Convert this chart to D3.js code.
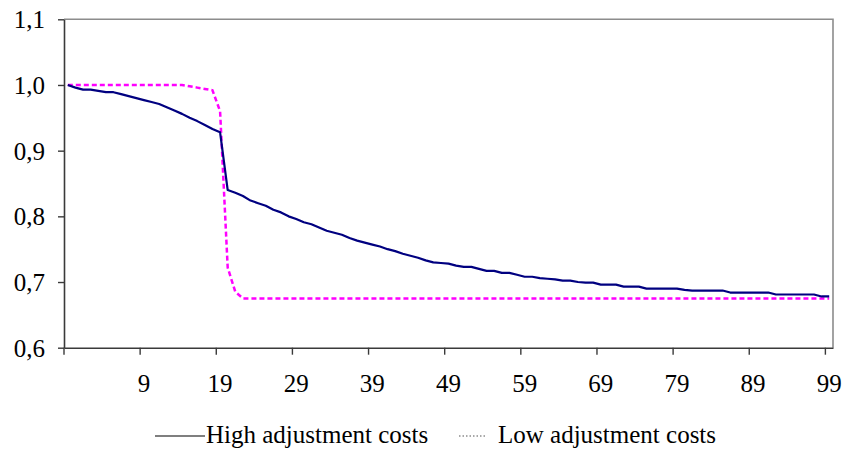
<!DOCTYPE html>
<html><head><meta charset="utf-8">
<script src="https://cdn.jsdelivr.net/npm/d3@7"></script>
<style>
body{margin:0;background:#fff}
svg{display:block}
text{font-family:"Liberation Serif","Times New Roman",serif;fill:#000}
</style>
</head><body>
<svg id="chart" width="844" height="454"></svg>
<script>
// categories: periods -1 .. 99 (first category has no label)
const periods = d3.range(-1, 100);
const xTickLabels = [9, 19, 29, 39, 49, 59, 69, 79, 89, 99];
const yTicks = [0.6, 0.7, 0.8, 0.9, 1.0, 1.1];
const seriesNames = ["High adjustment costs", "Low adjustment costs"];

const highCosts = [
 1.000,0.996,0.993,0.993,0.991,0.989,0.989,0.986,0.983,0.980,
 0.977,0.974,0.971,0.966,0.961,0.956,0.950,0.945,0.939,0.933,
 0.928,0.840,0.836,0.831,0.824,0.820,0.816,0.810,0.806,0.800,
 0.796,0.791,0.788,0.783,0.778,0.775,0.772,0.767,0.763,0.760,
 0.757,0.754,0.750,0.747,0.743,0.740,0.737,0.733,0.730,0.729,
 0.728,0.725,0.723,0.723,0.720,0.717,0.717,0.714,0.714,0.711,
 0.708,0.708,0.706,0.705,0.704,0.702,0.702,0.700,0.699,0.699,
 0.696,0.696,0.696,0.693,0.693,0.693,0.690,0.690,0.690,0.690,
 0.690,0.688,0.687,0.687,0.687,0.687,0.687,0.684,0.684,0.684,
 0.684,0.684,0.684,0.681,0.681,0.681,0.681,0.681,0.681,0.678,
 0.678];

const lowCosts = [
 1.000,1.000,1.000,1.000,1.000,1.000,1.000,1.000,1.000,1.000,
 1.000,1.000,1.000,1.000,1.000,1.000,0.998,0.996,0.994,0.992,
 0.960,0.722,0.685,0.675,0.675,0.675,0.675,0.675,0.675,0.675,
 0.675,0.675,0.675,0.675,0.675,0.675,0.675,0.675,0.675,0.675,
 0.675,0.675,0.675,0.675,0.675,0.675,0.675,0.675,0.675,0.675,
 0.675,0.675,0.675,0.675,0.675,0.675,0.675,0.675,0.675,0.675,
 0.675,0.675,0.675,0.675,0.675,0.675,0.675,0.675,0.675,0.675,
 0.675,0.675,0.675,0.675,0.675,0.675,0.675,0.675,0.675,0.675,
 0.675,0.675,0.675,0.675,0.675,0.675,0.675,0.675,0.675,0.675,
 0.675,0.675,0.675,0.675,0.675,0.675,0.675,0.675,0.675,0.675,
 0.675];

const svg = d3.select("#chart");
const L = 64, R = 833, T = 19.3, B = 347.7;
const FS = 25;

const x = d3.scaleBand().domain(periods).range([L, R]).padding(0);
const y = d3.scaleLinear().domain([0.6, 1.1]).range([B, T]);
const bw = x.bandwidth();
const cx = p => x(p) + bw / 2;

// frame: top and right borders
svg.append("path")
  .attr("d", `M${L},${T}H${R}V${B}`)
  .attr("fill", "none").attr("stroke", "#8c8c8c").attr("stroke-width", 1.6);

// y axis
const yAxis = svg.append("g").attr("transform", `translate(${L},0)`)
  .call(d3.axisLeft(y).tickValues(yTicks).tickSize(6).tickSizeOuter(0)
    .tickFormat(d => d3.format(".1f")(d).replace(".", ",")));
yAxis.select(".domain").attr("stroke", "#3a3a3a").attr("stroke-width", 1.6);
yAxis.selectAll(".tick line").attr("stroke", "#3a3a3a").attr("stroke-width", 1.4);
yAxis.selectAll(".tick text")
  .attr("x", -19).attr("dy", "0.34em")
  .attr("text-anchor", "end")
  .style("font-size", FS + "px").style("font-family", "'Liberation Serif', serif");

// x axis
const xAxis = svg.append("g").attr("transform", `translate(0,${B})`)
  .call(d3.axisBottom(x).tickValues([-1].concat(xTickLabels)).tickSize(7).tickSizeOuter(0)
    .tickFormat(d => d < 0 ? "" : String(d)));
xAxis.select(".domain").attr("stroke", "#3a3a3a").attr("stroke-width", 1.6);
xAxis.selectAll(".tick line").attr("stroke", "#3a3a3a").attr("stroke-width", 1.4)
  .attr("transform", `translate(${-bw / 2},0)`);
xAxis.selectAll(".tick text")
  .attr("y", 44).attr("dy", null)
  .attr("text-anchor", "middle")
  .style("font-size", FS + "px").style("font-family", "'Liberation Serif', serif");

// lines
const line = d3.line().x((d, i) => cx(periods[i])).y(d => y(d));
svg.append("path").datum(lowCosts).attr("d", line)
  .attr("fill", "none").attr("stroke", "#ff00ff").attr("stroke-width", 2.5)
  .attr("stroke-dasharray", "5,3");
svg.append("path").datum(highCosts).attr("d", line)
  .attr("fill", "none").attr("stroke", "#000080").attr("stroke-width", 2.2)
  .attr("stroke-linejoin", "round");

// legend
const legY = 443;
const leg = svg.append("g");
leg.append("line").attr("x1", 155).attr("x2", 205).attr("y1", legY - 7).attr("y2", legY - 7)
  .attr("stroke", "#000").attr("stroke-width", 1.2);
leg.append("text").attr("x", 206).attr("y", legY)
  .style("font-size", FS + "px").text(seriesNames[0]);
leg.append("line").attr("x1", 459).attr("x2", 486).attr("y1", legY - 7).attr("y2", legY - 7)
  .attr("stroke", "#555").attr("stroke-width", 1.2).attr("stroke-dasharray", "1.5,2");
leg.append("text").attr("x", 498).attr("y", legY)
  .style("font-size", FS + "px").text(seriesNames[1]);
</script>
</body></html>
